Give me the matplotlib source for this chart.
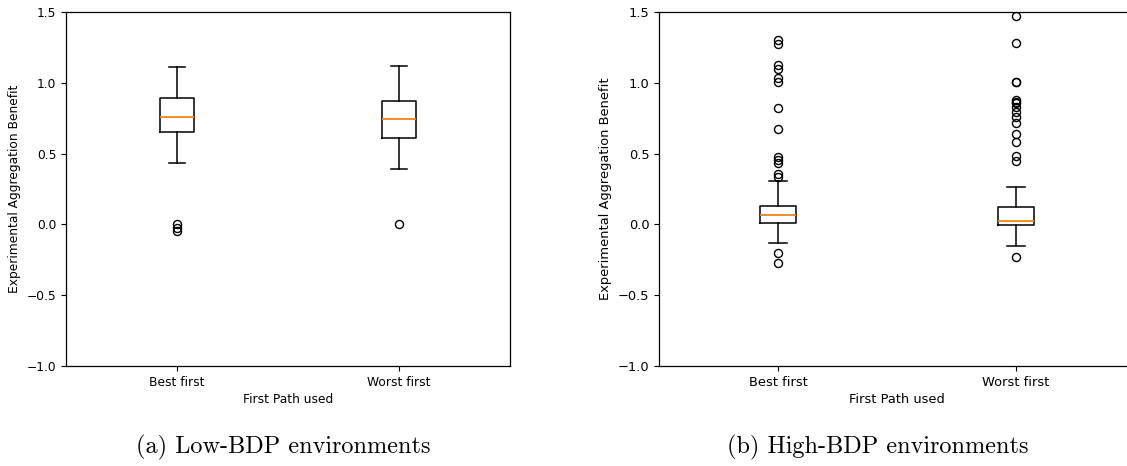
import matplotlib
matplotlib.use('Agg')
import matplotlib.pyplot as plt

# ---------- values read per panel: [Best first, Worst first] ----------
groups = ['Best first', 'Worst first']

low_med = [0.758, 0.744]
low_q1 = [0.655, 0.610]
low_q3 = [0.890, 0.874]
low_whislo = [0.434, 0.390]
low_whishi = [1.113, 1.118]
low_fliers = [[0.0, -0.025, -0.05],
              [0.0]]

high_med = [0.066, 0.026]
high_q1 = [0.012, -0.006]
high_q3 = [0.132, 0.121]
high_whislo = [-0.129, -0.153]
high_whishi = [0.306, 0.264]
high_fliers = [[1.302, 1.272, 1.126, 1.097, 1.036, 1.008, 0.82, 0.676,
                0.474, 0.455, 0.431, 0.356, 0.337, -0.204, -0.275],
               [1.474, 1.279, 1.008, 1.004, 0.878, 0.867, 0.855, 0.83,
                0.796, 0.76, 0.718, 0.636, 0.584, 0.483, 0.45, -0.228]]

captions = ['(a) Low-BDP environments', '(b) High-BDP environments']


def make_stats(med, q1, q3, lo, hi, fl):
    stats = []
    for i in range(len(groups)):
        stats.append({'label': groups[i], 'med': med[i], 'q1': q1[i], 'q3': q3[i],
                      'whislo': lo[i], 'whishi': hi[i], 'fliers': fl[i]})
    return stats


fig = plt.figure(figsize=(11.27, 4.66), dpi=100)

# left panel, right panel (right one runs past the figure edge)
ax1 = fig.add_axes([66 / 1127, 100 / 466, 444 / 1127, 354 / 466])
ax2 = fig.add_axes([659 / 1127, 100 / 466, 476 / 1127, 354 / 466])
ax2.spines['right'].set_visible(False)

panels = [(ax1, make_stats(low_med, low_q1, low_q3, low_whislo, low_whishi, low_fliers), 8.8),
          (ax2, make_stats(high_med, high_q1, high_q3, high_whislo, high_whishi, high_fliers), 9.4)]

lw = 1.1
for ax, stats, fs in panels:
    ax.bxp(stats, positions=[1, 2],
           boxprops=dict(color='black', linewidth=lw),
           whiskerprops=dict(color='black', linewidth=lw),
           capprops=dict(color='black', linewidth=lw),
           medianprops=dict(color='#ff7f0e', linewidth=1.3),
           flierprops=dict(marker='o', markerfacecolor='none', markeredgecolor='black',
                           markersize=5.8, markeredgewidth=1.0))
    ax.set_xlim(0.5, 2.5)
    ax.set_ylim(-1.0, 1.5)
    ax.set_yticks([-1.0, -0.5, 0.0, 0.5, 1.0, 1.5])
    ax.tick_params(labelsize=fs, width=0.8, length=3.5)
    ax.set_xlabel('First Path used', fontsize=fs, labelpad=3)
    ax.set_ylabel('Experimental Aggregation Benefit', fontsize=fs, labelpad=4)
    for s in ax.spines.values():
        s.set_linewidth(0.9)

fig.text(283 / 1127, 13 / 466, captions[0], family='cmr10', fontsize=17.5,
         ha='center', va='baseline')
fig.text(878 / 1127, 13 / 466, captions[1], family='cmr10', fontsize=17.5,
         ha='center', va='baseline')

fig.savefig('out.png', dpi=100)
